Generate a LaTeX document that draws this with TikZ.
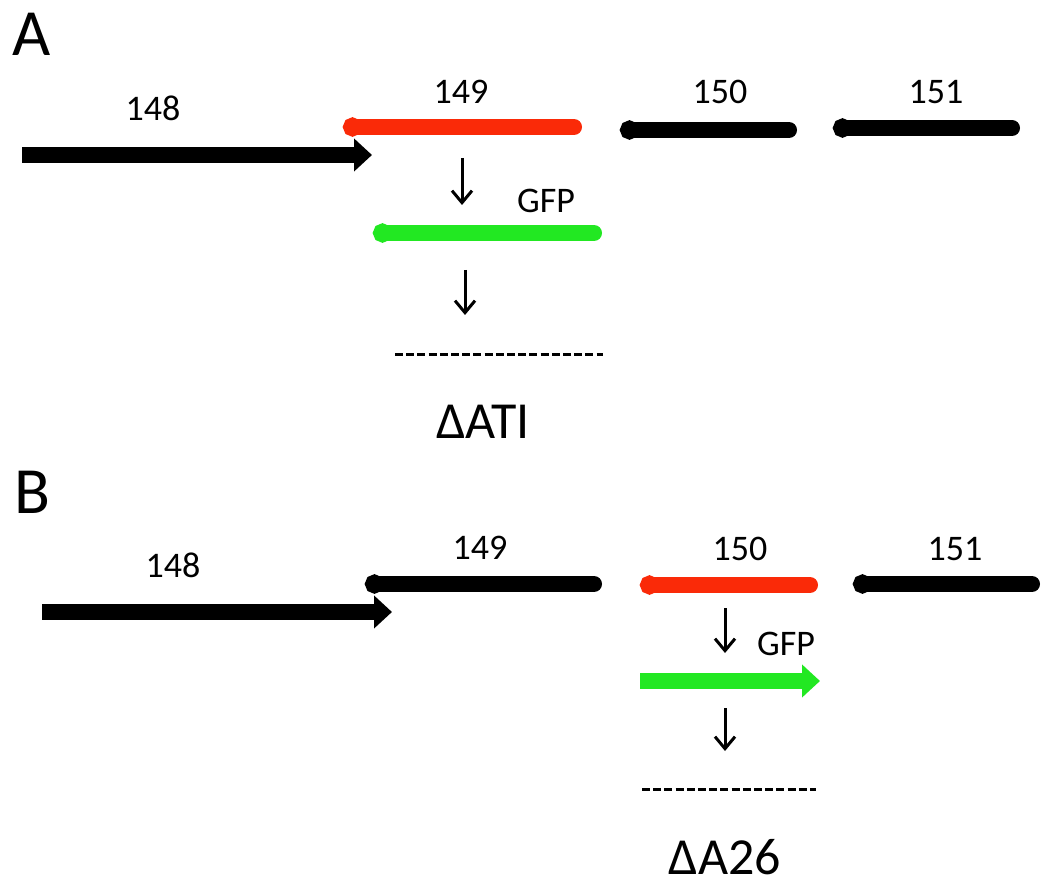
\documentclass[tikz,border=0pt]{standalone}
\usepackage{fontspec}
\setmainfont{Carlito}
\usetikzlibrary{arrows.meta}
\definecolor{genered}{RGB}{250,42,8}
\definecolor{genegreen}{RGB}{34,232,34}
\tikzset{
  lbl/.style={inner sep=0pt, font=\fontsize{18}{20}\selectfont},
  panel/.style={inner sep=0pt, font=\fontsize{33}{36}\selectfont},
  mut/.style={inner sep=0pt, font=\fontsize{26}{28}\selectfont},
  fwdgene/.style={line width=8pt, line cap=butt, -{Triangle[length=9pt,width=16pt]}},
  revgene/.style={line width=8pt, line cap=round, {Circle[length=9.5pt,width=9.5pt]}-},
  downarr/.style={line width=1.5pt, -{Straight Barb[length=6pt,width=10pt]}},
  deleted/.style={line width=1.5pt, dash pattern=on 4pt off 1.6pt},
}
\begin{document}
\begin{tikzpicture}[x=0.5pt,y=-0.5pt]
\useasboundingbox (0,0) rectangle (1050,887);
% ---------------- Panel A ----------------
\node[panel] (pA) at (32,34) {A};
\node[lbl] (tA148) at (153,108) {148};
\node[lbl] (tA149) at (461,92) {149};
\node[lbl] (tA150) at (720,92) {150};
\node[lbl] (tA151) at (936,92) {151};
\node[lbl] (tAgfp) at (546,201) {GFP};
\node[mut] (tAdel) at (483,422) {ΔATI};
\coordinate (a148s) at (22,155);  \coordinate (a148e) at (372,155);
\coordinate (a149s) at (343,127); \coordinate (a149e) at (574,127);
\coordinate (a150s) at (620,130); \coordinate (a150e) at (789,130);
\coordinate (a151s) at (833,128); \coordinate (a151e) at (1012,128);
\coordinate (ad1s) at (462,158);  \coordinate (ad1e) at (462,205);
\coordinate (agfps) at (373,233); \coordinate (agfpe) at (594,233);
\coordinate (ad2s) at (465,270);  \coordinate (ad2e) at (465,315);
\coordinate (adels) at (395,355); \coordinate (adele) at (603,355);
\draw[revgene, genered] (a149s) -- (a149e);
\draw[fwdgene] (a148s) -- (a148e);
\draw[revgene] (a150s) -- (a150e);
\draw[revgene] (a151s) -- (a151e);
\draw[downarr] (ad1s) -- (ad1e);
\draw[revgene, genegreen] (agfps) -- (agfpe);
\draw[downarr] (ad2s) -- (ad2e);
\draw[deleted] (adels) -- (adele);
% ---------------- Panel B ----------------
\node[panel] (pB) at (32,492) {B};
\node[lbl] (tB148) at (173,565) {148};
\node[lbl] (tB149) at (480,548) {149};
\node[lbl] (tB150) at (740,549) {150};
\node[lbl] (tB151) at (955,549) {151};
\node[lbl] (tBgfp) at (786,644) {GFP};
\node[mut] (tBdel) at (725,857) {ΔA26};
\coordinate (b148s) at (42,612);  \coordinate (b148e) at (392,612);
\coordinate (b149s) at (365,584); \coordinate (b149e) at (594,584);
\coordinate (b150s) at (640,585); \coordinate (b150e) at (810,585);
\coordinate (b151s) at (853,584); \coordinate (b151e) at (1032,584);
\coordinate (bd1s) at (725,608);  \coordinate (bd1e) at (725,653);
\coordinate (bgfps) at (640,681); \coordinate (bgfpe) at (820,681);
\coordinate (bd2s) at (725,708);  \coordinate (bd2e) at (725,751);
\coordinate (bdels) at (642,789); \coordinate (bdele) at (816,789);
\draw[revgene] (b149s) -- (b149e);
\draw[fwdgene] (b148s) -- (b148e);
\draw[revgene, genered] (b150s) -- (b150e);
\draw[revgene] (b151s) -- (b151e);
\draw[downarr] (bd1s) -- (bd1e);
\draw[fwdgene, genegreen] (bgfps) -- (bgfpe);
\draw[downarr] (bd2s) -- (bd2e);
\draw[deleted] (bdels) -- (bdele);
\end{tikzpicture}
\end{document}
